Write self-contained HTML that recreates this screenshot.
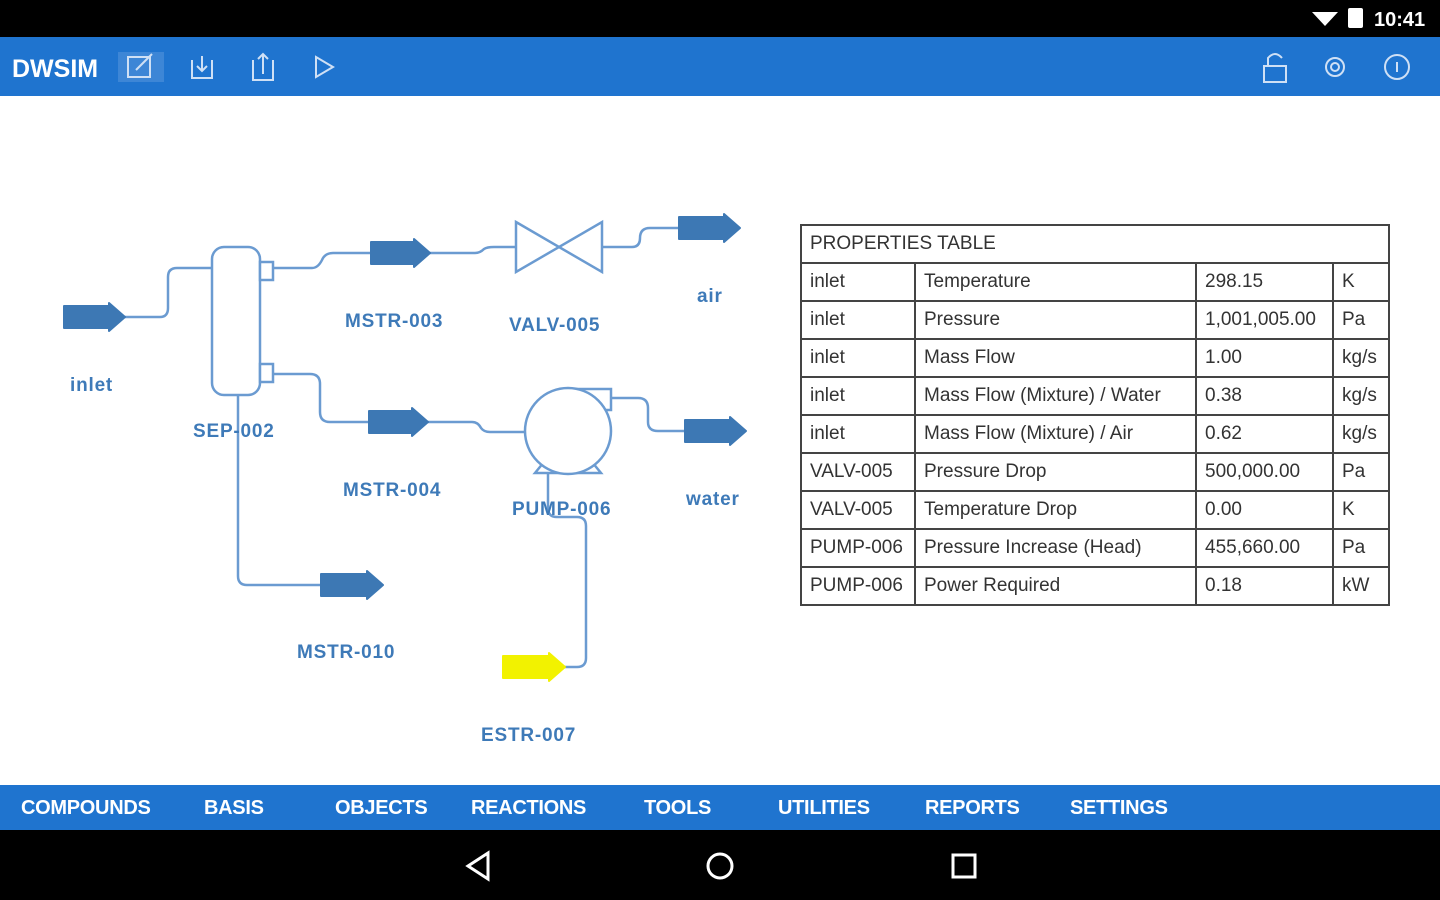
<!DOCTYPE html>
<html><head><meta charset="utf-8"><style>
*{margin:0;padding:0}
body{width:1440px;height:900px;overflow:hidden;background:#fff;font-family:"Liberation Sans",sans-serif;position:relative}
.sb{position:absolute;left:0;top:0;width:1440px;height:37px;background:#000}
.tb{position:absolute;left:0;top:37px;width:1440px;height:59px;background:#1f74cf}
.bn{position:absolute;left:0;top:785px;width:1440px;height:45px;background:#1f74cf}
.nb{position:absolute;left:0;top:830px;width:1440px;height:70px;background:#000}
.bn span{position:absolute;top:12px;color:#fff;font-weight:bold;font-size:20px;letter-spacing:-0.3px}
table{position:absolute;left:800px;top:224px;border-collapse:collapse;border:2px solid #333;font-size:19px;color:#333}
td{border:2px solid #444;height:38px;padding:0 0 0 8px;white-space:nowrap;overflow:hidden;box-sizing:border-box}
</style></head><body>
<div class="sb"></div>
<div class="tb"></div>
<div class="bn">
<span style="left:21px">COMPOUNDS</span><span style="left:204px">BASIS</span><span style="left:335px">OBJECTS</span><span style="left:471px">REACTIONS</span><span style="left:644px">TOOLS</span><span style="left:778px">UTILITIES</span><span style="left:925px">REPORTS</span><span style="left:1070px">SETTINGS</span>
</div>
<div class="nb"></div>
<svg width="1440" height="900" style="position:absolute;left:0;top:0">
<path d="M1312 12 L1338 12 L1325 26 Z" fill="#fff"/>
<rect x="1348" y="8" width="15" height="20" rx="2" fill="#fff"/>
<text x="1374" y="26" fill="#fff" font-size="20" font-weight="bold" font-family="Liberation Sans">10:41</text>
<text x="12" y="77" fill="#fff" font-size="25" font-weight="bold" font-family="Liberation Sans">DWSIM</text>
<rect x="118" y="52" width="46" height="30" fill="#3d86d6"/>
<g fill="none" stroke="#cfe0f5" stroke-width="2">
<rect x="128" y="57" width="22" height="20"/><path d="M136 70 L152 54"/>
<path d="M192 60 V78 H212 V60 M202 56 V71 M197 66 L202 71 L207 66"/>
<path d="M253 60 V80 H273 V60 M263 74 V54 M258 59 L263 54 L268 59"/>
<path d="M316 57 L333 67 L316 77 Z"/>
<path d="M1264 66 H1286 V82 H1264 Z M1268 66 V58 Q1275 50 1282 58"/>
<circle cx="1335" cy="67" r="9"/><circle cx="1335" cy="67" r="4"/>
<circle cx="1397" cy="67" r="12"/><path d="M1397 62 V72"/>
</g>
<g fill="none" stroke="#fff" stroke-width="3">
<path d="M488 853 L468 866 L488 879 Z"/>
<circle cx="720" cy="866" r="12"/>
<rect x="953" y="855" width="22" height="22"/>
</g>
<g fill="none" stroke="#6b9bd1" stroke-width="2.5">
<path d="M125 317 H160 Q168 317 168 308 V277 Q168 268 177 268 H212"/>
<path d="M273 268 H312 Q318 268 322 260 Q325 253 333 253 H370"/>
<path d="M430 253 H475 Q480 253 484 249 Q487 247 494 247 H516"/>
<path d="M602 247 H632 Q640 247 640 238 Q640 228 650 228 H678"/>
<path d="M273 374 H310 Q320 374 320 384 V412 Q320 422 330 422 H368"/>
<path d="M428 422 H472 Q478 422 481 428 Q484 432 490 432 H525"/>
<path d="M611 398 H638 Q648 398 648 408 V422 Q648 431 658 431 H684"/>
<path d="M548 473 V508 Q548 517 557 517 H577 Q586 517 586 526 V658 Q586 667 577 667 H565"/>
<path d="M238 395 V576 Q238 585 247 585 H320"/>
</g>
<g fill="#fff" stroke="#6b9bd1" stroke-width="2.5">
<rect x="212" y="247" width="48" height="148" rx="12"/>
<rect x="260" y="262" width="13" height="18"/>
<rect x="260" y="364" width="13" height="18"/>
<path d="M516 222 L602 272 L602 222 L516 272 Z"/>
<path d="M578 389 H611 V410 H600 Z"/>
<path d="M535 473 L544 462 H592 L601 473 Z"/>
<circle cx="568" cy="431" r="43"/>
</g>
<g fill="#3d78b4" stroke="#3d78b4" stroke-width="2" stroke-linejoin="round">
<path d="M64 306 H109 V303 L125 317 L109 331 V328 H64 Z"/>
<path d="M371 242 H414 V239 L430 253 L414 267 V264 H371 Z"/>
<path d="M679 217 H724 V214 L740 228 L724 242 V239 H679 Z"/>
<path d="M369 411 H412 V408 L428 422 L412 436 V433 H369 Z"/>
<path d="M685 420 H730 V417 L746 431 L730 445 V442 H685 Z"/>
<path d="M321 574 H367 V571 L383 585 L367 599 V596 H321 Z"/>
</g>
<path d="M503 656 H549 V653 L565 667 L549 681 V678 H503 Z" fill="#f2f200" stroke="#f2f200" stroke-width="2" stroke-linejoin="round"/>
<g fill="#3e7ab8" font-size="19" font-weight="bold" font-family="Liberation Sans" letter-spacing="0.8">
<text x="70" y="391">inlet</text>
<text x="193" y="437">SEP-002</text>
<text x="345" y="327">MSTR-003</text>
<text x="509" y="331">VALV-005</text>
<text x="697" y="302">air</text>
<text x="343" y="496">MSTR-004</text>
<text x="512" y="515">PUMP-006</text>
<text x="686" y="505">water</text>
<text x="297" y="658">MSTR-010</text>
<text x="481" y="741">ESTR-007</text>
</g>
</svg>
<table>
<tr><td colspan="4" style="height:38px">PROPERTIES TABLE</td></tr>
<tr><td style="width:114px">inlet</td><td style="width:281px">Temperature</td><td style="width:137px">298.15</td><td style="width:56px">K</td></tr>
<tr><td>inlet</td><td>Pressure</td><td>1,001,005.00</td><td>Pa</td></tr>
<tr><td>inlet</td><td>Mass Flow</td><td>1.00</td><td>kg/s</td></tr>
<tr><td>inlet</td><td>Mass Flow (Mixture) / Water</td><td>0.38</td><td>kg/s</td></tr>
<tr><td>inlet</td><td>Mass Flow (Mixture) / Air</td><td>0.62</td><td>kg/s</td></tr>
<tr><td>VALV-005</td><td>Pressure Drop</td><td>500,000.00</td><td>Pa</td></tr>
<tr><td>VALV-005</td><td>Temperature Drop</td><td>0.00</td><td>K</td></tr>
<tr><td>PUMP-006</td><td>Pressure Increase (Head)</td><td>455,660.00</td><td>Pa</td></tr>
<tr><td>PUMP-006</td><td>Power Required</td><td>0.18</td><td>kW</td></tr>
</table>
</body></html>
